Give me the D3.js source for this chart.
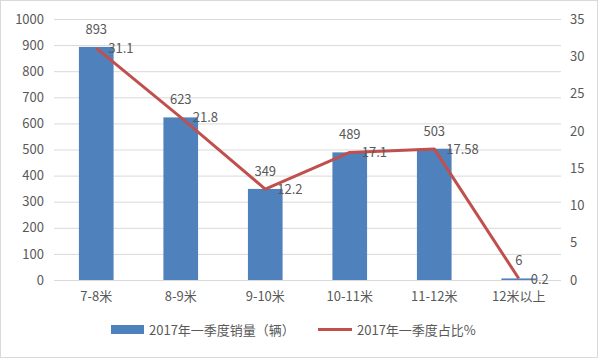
<!DOCTYPE html>
<html><head><meta charset="utf-8">
<script src="https://cdn.jsdelivr.net/npm/d3@7"></script>
<style>body{margin:0;background:#fff}text{font-family:"Noto Sans CJK SC","Noto Sans",sans-serif;fill:#595959}</style>
</head><body><svg id="c" width="600" height="360"></svg>
<script>
const categories = ["7-8米","8-9米","9-10米","10-11米","11-12米","12米以上"];
const sales = [893, 623, 349, 489, 503, 6];
const shares = [31.1, 21.8, 12.2, 17.1, 17.58, 0.2];
const shareLabels = ["31.1","21.8","12.2","17.1","17.58","0.2"];
const leftTicks = [0,100,200,300,400,500,600,700,800,900,1000];
const rightTicks = [0,5,10,15,20,25,30,35];
const seriesNames = ["2017年一季度销量（辆）","2017年一季度占比%"];

const svg = d3.select("#c");
svg.append("rect").attr("x",0.5).attr("y",0.5).attr("width",597).attr("height",357)
  .attr("fill","#fff").attr("stroke","#d9d9d9");

const x = d3.scaleBand().domain(categories).range([54,561]).paddingInner(0.59).paddingOuter(0.295);
const yL = d3.scaleLinear().domain([0,1000]).range([280,19]);
const yR = d3.scaleLinear().domain([0,35]).range([280,19]);

svg.append("g").selectAll("line").data(leftTicks).join("line")
  .attr("x1",54).attr("x2",561).attr("y1",d=>yL(d)+0.5).attr("y2",d=>yL(d)+0.5)
  .attr("stroke","#d9d9d9").attr("stroke-width",1);

const fs = 13;
const la = svg.append("g").attr("transform","translate(54,0)")
  .call(d3.axisLeft(yL).tickValues(leftTicks).tickFormat(d3.format("d")).tickSize(0).tickPadding(10));
la.select(".domain").remove();
la.selectAll("text").style("font-size",fs+"px").attr("fill","#595959");
const ra = svg.append("g").attr("transform","translate(561,0)")
  .call(d3.axisRight(yR).tickValues(rightTicks).tickSize(0).tickPadding(9));
ra.select(".domain").remove();
ra.selectAll("text").style("font-size",fs+"px").attr("fill","#595959");
const ba = svg.append("g").attr("transform","translate(0,280)")
  .call(d3.axisBottom(x).tickSize(0).tickPadding(12));
ba.select(".domain").remove();
ba.selectAll("text").style("font-size",fs+"px").attr("fill","#595959");

svg.append("g").selectAll("rect").data(categories).join("rect")
  .attr("x",d=>x(d)).attr("width",x.bandwidth())
  .attr("y",(d,i)=>yL(sales[i])).attr("height",(d,i)=>280-yL(sales[i]))
  .attr("fill","#4f81bd");

svg.append("g").selectAll("text").data(categories).join("text")
  .attr("x",d=>x(d)+x.bandwidth()/2).attr("y",(d,i)=>yL(sales[i])-13)
  .attr("text-anchor","middle").style("font-size",fs+"px").text((d,i)=>sales[i]);

const line = d3.line().x((d,i)=>x(categories[i])+x.bandwidth()/2).y(d=>yR(d));
svg.append("path").datum(shares).attr("d",line).attr("fill","none")
  .attr("stroke","#c0504d").attr("stroke-width",3).attr("stroke-linejoin","round");

svg.append("g").selectAll("text").data(categories).join("text")
  .attr("x",d=>x(d)+x.bandwidth()/2+12).attr("y",(d,i)=>yR(shares[i])+5)
  .style("font-size",fs+"px").text((d,i)=>shareLabels[i]);

const lg = svg.append("g");
lg.append("rect").attr("x",111).attr("y",325).attr("width",33).attr("height",9).attr("fill","#4f81bd");
lg.append("text").attr("x",149).attr("y",335).style("font-size",fs+"px").text(seriesNames[0]);
lg.append("line").attr("x1",318).attr("x2",352).attr("y1",329.5).attr("y2",329.5)
  .attr("stroke","#c0504d").attr("stroke-width",3);
lg.append("text").attr("x",357).attr("y",335).style("font-size",fs+"px").text(seriesNames[1]);
</script></body></html>
